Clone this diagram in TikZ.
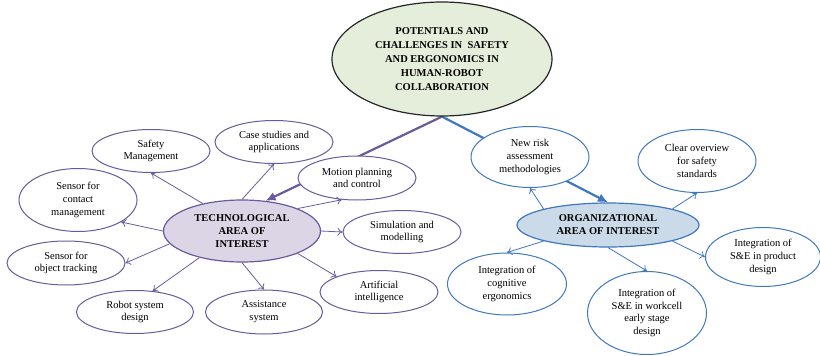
\documentclass[tikz,border=0pt]{standalone}
\usepackage{fontspec}
\setmainfont{Liberation Serif}
\usetikzlibrary{shapes.geometric,arrows.meta,backgrounds}
\definecolor{techline}{HTML}{6A5A9E}
\definecolor{techfill}{HTML}{DCD5E6}
\definecolor{orgline}{HTML}{3F78BE}
\definecolor{orgfill}{HTML}{CBDAE8}
\definecolor{mainfill}{HTML}{E5EEDA}
\tikzset{
  bubble/.style={ellipse,draw,fill=white,line width=1pt,inner sep=0pt,align=center,
    font=\fontsize{10.5}{12.7}\selectfont,minimum width=118pt,minimum height=43pt},
  techbubble/.style={bubble,draw=techline},
  orgbubble/.style={bubble,draw=orgline},
  hub/.style={ellipse,draw,line width=1.2pt,inner sep=0pt,align=center,
    font=\bfseries\fontsize{10.5}{13}\selectfont},
  techarrow/.style={draw=techline,line width=0.8pt,-{To[length=5pt,width=8pt]}},
  orgarrow/.style={draw=orgline,line width=0.8pt,-{To[length=5pt,width=8pt]}},
  bigarrow/.style={line width=2.2pt,-{Latex[length=10pt,width=9pt]}}
}

\begin{document}
\begin{tikzpicture}[x=1pt,y=-1pt]
\useasboundingbox (0,0) rectangle (820,356);

\node[hub,draw=black!85,fill=mainfill,minimum width=220pt,minimum height=114pt,
  font=\bfseries\fontsize{10.5}{14}\selectfont] (main) at (442,59)
  {POTENTIALS AND\\CHALLENGES IN\ \ SAFETY\\AND ERGONOMICS IN\\HUMAN-ROBOT\\COLLABORATION};

\node[hub,draw=techline,fill=techfill,minimum width=157pt,minimum height=62pt] (tech) at (242,231)
  {TECHNOLOGICAL\\AREA OF\\INTEREST};
\node[techbubble] (safety) at (151,151) {Safety\\Management};
\node[techbubble] (cases) at (274,142) {Case studies and\\applications};
\node[techbubble,minimum height=44pt] (motion) at (357,178) {Motion planning\\and control};
\node[techbubble,minimum height=63pt] (contact) at (78,200) {Sensor for\\contact\\management};
\node[techbubble] (simulation) at (402,232) {Simulation and\\modelling};
\node[techbubble,minimum height=44pt] (tracking) at (66,263) {Sensor for\\object tracking};
\node[techbubble,minimum width=117pt] (robot) at (135,312) {Robot system\\design};
\node[techbubble,minimum width=117pt,minimum height=44pt] (assist) at (264,312) {Assistance\\system};
\node[techbubble] (ai) at (379,292) {Artificial\\intelligence};

\node[hub,draw=orgline,fill=orgfill,minimum width=182pt,minimum height=44pt] (org) at (608,225)
  {ORGANIZATIONAL\\AREA OF INTEREST};
\node[orgbubble,minimum height=61pt] (risk) at (530,157) {New risk\\assessment\\methodologies};
\node[orgbubble,minimum height=63pt] (overview) at (697,161) {Clear overview\\for safety\\standards};
\node[orgbubble,minimum width=115pt,minimum height=59pt] (product) at (763,257) {Integration of\\S\&E in product\\design};
\node[orgbubble,minimum width=119pt,minimum height=62pt] (cognitive) at (507,284) {Integration of\\cognitive\\ergonomics};
\node[orgbubble,minimum width=119pt,minimum height=83pt] (workcell) at (647,313) {Integration of\\S\&E in workcell\\early stage\\design};

\begin{scope}[on background layer]
\draw[bigarrow,techline] (main.south) -- (tech.52);
\draw[bigarrow,orgline] (main.south) -- (org.north);
\end{scope}

\draw[techarrow] (tech.145) -- (safety.south);
\draw[techarrow] (tech.north) -- (cases.south);
\draw[techarrow] (tech.22) -- (motion.235);
\draw[techarrow] (tech.west) -- (contact.333);
\draw[techarrow] (tech.east) -- (simulation.west);
\draw[techarrow] (tech.190) -- (tracking.east);
\draw[techarrow] (tech.212) -- (robot.50);
\draw[techarrow] (tech.south) -- (assist.north);
\draw[techarrow] (tech.338) -- (ai.160);

\draw[orgarrow] (org.166) -- (risk.south);
\draw[orgarrow] (org.14) -- (overview.south);
\draw[orgarrow] (org.346) -- (product.west);
\draw[orgarrow] (org.194) -- (cognitive.north);
\draw[orgarrow] (org.south) -- (workcell.north);
\end{tikzpicture}
\end{document}
